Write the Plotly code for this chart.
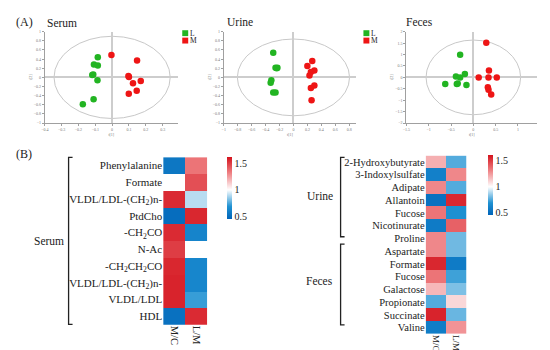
import plotly.graph_objects as go

W, H = 550, 350
SERIF = "Liberation Serif"
GREEN = "#22b422"
RED = "#ee1515"

# ---------------- data: score plots (A) ----------------
serum_L_x = [-0.085, -0.108, -0.085, -0.112, -0.118, -0.087, -0.110, -0.174]
serum_L_y = [0.44, 0.28, 0.26, 0.065, 0.05, -0.065, -0.48, -0.59]
serum_M_x = [-0.004, 0.148, 0.097, 0.100, 0.124, 0.170, 0.146, 0.099]
serum_M_y = [0.49, 0.37, 0.03, 0.01, -0.13, -0.08, -0.29, -0.36]

urine_L_x = [-0.29, -0.257, -0.23, -0.327, -0.317, -0.29, -0.257, -0.24]
urine_L_y = [0.54, 0.21, 0.21, -0.116, -0.065, -0.33, -0.33, 0.20]
urine_M_x = [0.27, 0.20, 0.30, 0.25, 0.23, 0.30, 0.25, 0.26]
urine_M_y = [0.36, 0.25, 0.15, 0.12, 0.04, -0.18, -0.23, -0.50]

feces_L_x = [-0.296, -0.19, -0.39, -0.296, -0.63, -0.37, -0.155, -0.35]
feces_L_y = [0.99, 0.145, 0.04, 0.0, -0.29, -0.29, -0.33, -0.27]
feces_M_x = [0.29, 0.35, 0.12, 0.34, 0.525, 0.325, 0.34, 0.40]
feces_M_y = [1.52, 0.30, 0.0, -0.01, 0.0, -0.43, -0.54, -0.75]

# ---------------- data: heatmaps (B) ----------------
ratio_cols = ["M/C", "L/M"]
serum_labels = ["Phenylalanine", "Formate", "VLDL/LDL-(CH<sub>2</sub>)n-", "PtdCho",
                "-CH<sub>2</sub>CO", "N-Ac", "-CH<sub>2</sub>CH<sub>2</sub>CO",
                "VLDL/LDL-(CH<sub>2</sub>)n-", "VLDL/LDL", "HDL"]
serum_MC = [0.55, 1.0, 1.55, 0.50, 1.55, 1.50, 1.56, 1.57, 1.57, 0.52]
serum_LM = [1.35, 1.45, 0.90, 1.56, 0.62, 1.00, 0.63, 0.63, 0.72, 1.55]

uf_labels = ["2-Hydroxybutyrate", "3-Indoxylsulfate", "Adipate", "Allantoin", "Fucose",
             "Nicotinurate", "Proline", "Aspartate", "Formate", "Fucose", "Galactose",
             "Propionate", "Succinate", "Valine"]
uf_MC = [1.20, 0.60, 1.30, 0.52, 1.35, 0.57, 1.30, 1.30, 1.56, 1.35, 1.18, 0.76, 1.57, 0.58]
uf_LM = [0.76, 1.30, 0.76, 1.56, 0.68, 1.40, 0.80, 0.80, 0.57, 0.73, 0.82, 1.10, 0.79, 1.27]

cbar_ticks = [0.5, 1, 1.5]
ZMIN, ZMAX = 0.453, 1.616


def px(x):
    return x / W


def py(y):
    return 1 - y / H


fig = go.Figure()

panels = [
    (serum_L_x, serum_L_y, serum_M_x, serum_M_y, "x", "y"),
    (urine_L_x, urine_L_y, urine_M_x, urine_M_y, "x2", "y2"),
    (feces_L_x, feces_L_y, feces_M_x, feces_M_y, "x3", "y3"),
]
for lx, ly, mx, my, xa, ya in panels:
    fig.add_trace(go.Scatter(x=lx, y=ly, mode="markers", xaxis=xa, yaxis=ya,
                             marker=dict(color=GREEN, size=6.5), showlegend=False))
    fig.add_trace(go.Scatter(x=mx, y=my, mode="markers", xaxis=xa, yaxis=ya,
                             marker=dict(color=RED, size=6.5), showlegend=False))

cscale = [[0.0, "rgb(0,100,185)"], [0.2, "rgb(30,145,210)"], [0.47, "rgb(255,255,255)"],
          [0.75, "rgb(238,125,128)"], [1.0, "rgb(212,18,28)"]]


def heat(labels, mc, lm, xa, ya, cbx, cby, cblen):
    n = len(labels)
    z = [[mc[i], lm[i]] for i in range(n)]
    fig.add_trace(go.Heatmap(
        z=z, x=ratio_cols, y=list(range(n)), xaxis=xa, yaxis=ya,
        colorscale=cscale, zmin=ZMIN, zmax=ZMAX, hoverongaps=False,
        colorbar=dict(x=cbx, xanchor="left", y=cby, yanchor="middle", len=cblen,
                      lenmode="fraction", thickness=5, outlinewidth=0,
                      tickvals=cbar_ticks, ticktext=[str(t) for t in cbar_ticks],
                      ticks="", tickfont=dict(family=SERIF, size=10, color="#222"),
                      ypad=0, xpad=0)))


heat(serum_labels, serum_MC, serum_LM, "x4", "y4", px(217), py(179.5), 62.4 / H)
heat(uf_labels, uf_MC, uf_LM, "x5", "y5", px(479.3), py(176.3), 60.7 / H)

TICKF = dict(size=4, color="rgb(120,120,120)")
axis_common = dict(showgrid=False, showline=True, linecolor="rgb(160,160,160)", linewidth=1,
                   ticks="outside", ticklen=2, tickcolor="rgb(160,160,160)",
                   tickfont=TICKF,
                   zeroline=True, zerolinecolor="rgb(205,205,205)", zerolinewidth=1.5)
ytop, ybot = py(21), py(113.7)
TT = dict(size=4, color="rgb(120,120,120)")

layout = dict(
    width=W, height=H, margin=dict(l=0, r=0, t=0, b=0),
    paper_bgcolor="white", plot_bgcolor="white", showlegend=False,
    font=dict(family=SERIF, color="#222"),
    xaxis=dict(domain=[px(33), px(167)], range=[-0.4, 0.39], dtick=0.1, anchor="y",
               title=dict(text="t[1]", font=TT, standoff=1), **axis_common),
    yaxis=dict(domain=[ybot, ytop], range=[-1, 1], dtick=0.2, anchor="x",
               title=dict(text="t[2]", font=TT, standoff=1), **axis_common),
    xaxis2=dict(domain=[px(213.3), px(346.7)], range=[-1, 0.9], dtick=0.2, anchor="y2",
                title=dict(text="t[1]", font=TT, standoff=1), **axis_common),
    yaxis2=dict(domain=[ybot, ytop], range=[-1, 1], dtick=0.2, anchor="x2",
                title=dict(text="t[2]", font=TT, standoff=1), **axis_common),
    xaxis3=dict(domain=[px(397.3), px(529)], range=[-1.5, 1.43], dtick=0.5, anchor="y3",
                title=dict(text="t[1]", font=TT, standoff=1), **axis_common),
    yaxis3=dict(domain=[ybot, ytop], range=[-2, 2], dtick=0.5, anchor="x3",
                title=dict(text="t[2]", font=TT, standoff=1), **axis_common),
    xaxis4=dict(domain=[px(152.3), px(196.7)], anchor="y4", tickangle=90, showline=False,
                ticks="", tickfont=dict(family=SERIF, size=10.5, color="#222"), showgrid=False),
    yaxis4=dict(domain=[py(318.3), py(148.3)], anchor="x4", range=[len(serum_labels) - 0.5, -0.5],
                tickvals=list(range(len(serum_labels))), ticktext=serum_labels, ticks="",
                showgrid=False, zeroline=False, showline=False,
                tickfont=dict(family=SERIF, size=11, color="#222")),
    xaxis5=dict(domain=[px(416.7), px(457.7)], anchor="free", position=py(327.7),
                tickangle=90, showline=False,
                ticks="", tickfont=dict(family=SERIF, size=9, color="#222"), showgrid=False),
    yaxis5=dict(domain=[py(327.7), py(146.7)], anchor="x5", range=[len(uf_labels) - 0.5, -0.5],
                tickvals=list(range(len(uf_labels))), ticktext=uf_labels, ticks="",
                showgrid=False, zeroline=False, showline=False,
                tickfont=dict(family=SERIF, size=10.5, color="#222")),
)
fig.update_layout(**layout)

shapes = []
# confidence ellipses
for xr, yr, a, b in [("x", "y", 0.345, 0.90), ("x2", "y2", 0.805, 0.84), ("x3", "y3", 1.06, 1.635)]:
    shapes.append(dict(type="circle", xref=xr, yref=yr, x0=-a, x1=a, y0=-b, y1=b,
                       line=dict(color="rgb(200,200,200)", width=1), layer="below"))

# legend squares
for lx in [171.5, 354, 535]:
    shapes.append(dict(type="rect", xref="paper", yref="paper", x0=px(lx), x1=px(lx + 6),
                       y0=py(25.5), y1=py(19.5), fillcolor=GREEN, line=dict(width=0)))
    shapes.append(dict(type="rect", xref="paper", yref="paper", x0=px(lx), x1=px(lx + 6),
                       y0=py(33), y1=py(27), fillcolor=RED, line=dict(width=0)))


def bracket(x, y0, y1):
    pts = [(x + 4, y0), (x, y0), (x, y1), (x + 4, y1)]
    path = "M " + " L ".join(f"{px(a)},{py(b)}" for a, b in pts)
    shapes.append(dict(type="path", xref="paper", yref="paper", path=path,
                       line=dict(color="#222", width=1.3)))


bracket(57, 148.5, 318)
bracket(331, 148.5, 229)
bracket(331, 236.5, 318.5)
fig.update_layout(shapes=shapes)

annos = []


def txt(t, x, y, size, xanchor="left"):
    annos.append(dict(text=t, x=px(x), y=py(y), xref="paper", yref="paper", showarrow=False,
                      xanchor=xanchor, yanchor="middle", borderpad=0,
                      font=dict(family=SERIF, size=size, color="#222")))


txt("(A)", 3, 11, 12)
txt("Serum", 34, 12, 11.5)
txt("Urine", 216, 11, 11.5)
txt("Feces", 396, 11, 11.5)
for lx in [171.5, 354]:
    txt("L", lx + 7, 22.5, 7.5)
    txt("M", lx + 7, 30, 7.5)
txt("L", 541.5, 22.5, 6.5)
txt("M", 541.5, 30, 5.5)
txt("(B)", 3, 145, 12)
txt("Serum", 53, 233, 11.5, "right")
txt("Urine", 324, 188, 11.5, "right")
txt("Feces", 324, 274, 11.5, "right")
fig.update_layout(annotations=annos)

fig.write_html("out.html")
